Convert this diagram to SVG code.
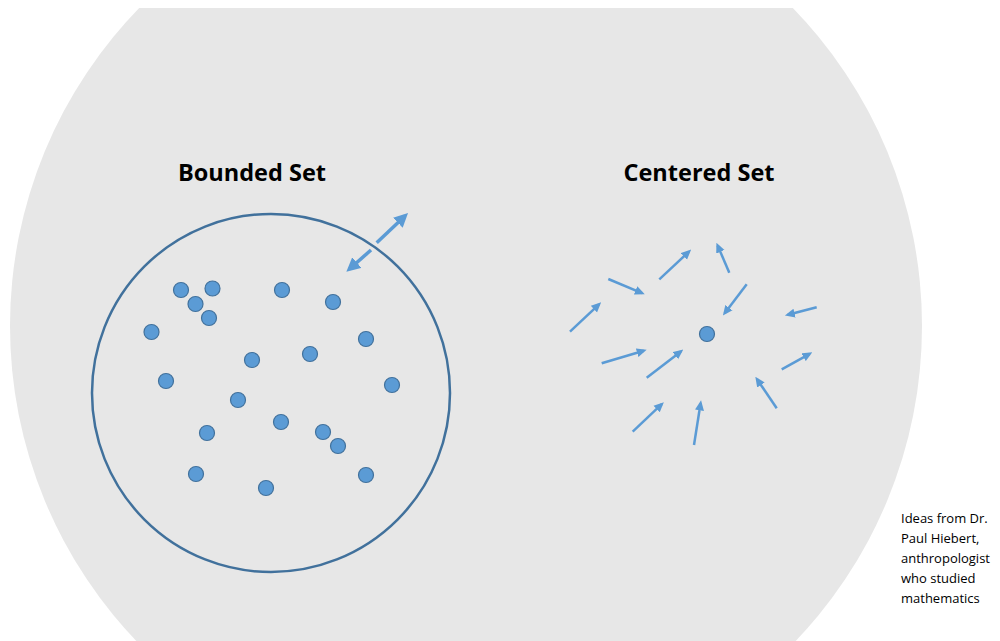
<svg xmlns="http://www.w3.org/2000/svg" width="1000" height="641" viewBox="0 0 1000 641">
<style>
.dot{fill:#5B9BD5;stroke:#41719C;stroke-width:1.2}
.arr{stroke:#5B9BD5;stroke-width:2.5;fill:none;marker-end:url(#ah)}
.arr2{stroke:#5B9BD5;stroke-width:3.5;fill:none;marker-end:url(#ah2)}
.title{font-family:"Open Sans","Liberation Sans",sans-serif;font-weight:bold;font-size:23.5px;fill:#000;text-anchor:middle}
.note{font-family:"Open Sans","Liberation Sans",sans-serif;font-size:13px;fill:#000}
</style>
<defs>
<clipPath id="cp"><rect x="0" y="8" width="1000" height="633"/></clipPath>
<marker id="ah" markerWidth="10" markerHeight="10" viewBox="0 0 10 10" refX="7" refY="5" orient="auto" markerUnits="userSpaceOnUse">
<path d="M0,0.5 L10,5 L0,9.5 Z" fill="#5B9BD5"/>
</marker>
<marker id="ah2" markerWidth="14" markerHeight="14" viewBox="0 0 10 10" refX="7" refY="5" orient="auto" markerUnits="userSpaceOnUse">
<path d="M0,0 L10,5 L0,10 Z" fill="#5B9BD5"/>
</marker>
</defs>
<rect width="1000" height="641" fill="#FFFFFF"/>
<g id="background">
<circle cx="466" cy="326" r="456" fill="#E7E7E7" clip-path="url(#cp)"/>
</g>
<g id="bounded-set">
<text class="title" x="252" y="181">Bounded Set</text>
<circle cx="271" cy="393" r="179" fill="none" stroke="#41719C" stroke-width="2.5"/>
<circle class="dot" cx="181" cy="290" r="7.5"/>
<circle class="dot" cx="212.5" cy="288.5" r="7.5"/>
<circle class="dot" cx="195.5" cy="304" r="7.5"/>
<circle class="dot" cx="209" cy="318" r="7.5"/>
<circle class="dot" cx="282" cy="290" r="7.5"/>
<circle class="dot" cx="333" cy="302" r="7.5"/>
<circle class="dot" cx="151.5" cy="332" r="7.5"/>
<circle class="dot" cx="366" cy="339" r="7.5"/>
<circle class="dot" cx="252" cy="360" r="7.5"/>
<circle class="dot" cx="310" cy="354" r="7.5"/>
<circle class="dot" cx="166" cy="381" r="7.5"/>
<circle class="dot" cx="392" cy="385" r="7.5"/>
<circle class="dot" cx="238" cy="400" r="7.5"/>
<circle class="dot" cx="207" cy="433" r="7.5"/>
<circle class="dot" cx="281" cy="422" r="7.5"/>
<circle class="dot" cx="323" cy="432" r="7.5"/>
<circle class="dot" cx="338" cy="446" r="7.5"/>
<circle class="dot" cx="196" cy="474" r="7.5"/>
<circle class="dot" cx="266" cy="488" r="7.5"/>
<circle class="dot" cx="366" cy="475" r="7.5"/>
</g>
<g id="centered-set">
<text class="title" x="699" y="181">Centered Set</text>
<circle class="dot" cx="707" cy="334" r="7.5"/>
</g>
<g id="note">
<text class="note" x="901" y="523">Ideas from Dr.</text>
<text class="note" x="901" y="543">Paul Hiebert,</text>
<text class="note" x="901" y="563">anthropologist</text>
<text class="note" x="901" y="583">who studied</text>
<text class="note" x="901" y="603">mathematics</text>
</g>
<g id="connectors">
<line class="arr2" x1="376.7" y1="242.7" x2="405" y2="216"/>
<line class="arr2" x1="371" y1="250" x2="349.5" y2="269"/>
<line class="arr" x1="570" y1="331.7" x2="599" y2="304.3"/>
<line class="arr" x1="608.3" y1="279" x2="642" y2="293.2"/>
<line class="arr" x1="659.3" y1="279.3" x2="689" y2="251.6"/>
<line class="arr" x1="729.3" y1="272.7" x2="717.6" y2="245.4"/>
<line class="arr" x1="746.7" y1="284.3" x2="724.7" y2="313.2"/>
<line class="arr" x1="816.7" y1="307.3" x2="787.8" y2="314.8"/>
<line class="arr" x1="601.7" y1="363.3" x2="643.8" y2="350.7"/>
<line class="arr" x1="646.7" y1="377.7" x2="680.9" y2="351.4"/>
<line class="arr" x1="781.7" y1="369.3" x2="809.7" y2="353.8"/>
<line class="arr" x1="776.7" y1="408.3" x2="757" y2="379.2"/>
<line class="arr" x1="632.7" y1="431.7" x2="661.7" y2="404.2"/>
<line class="arr" x1="694" y1="445" x2="700.6" y2="403.3"/>
</g>
</svg>
